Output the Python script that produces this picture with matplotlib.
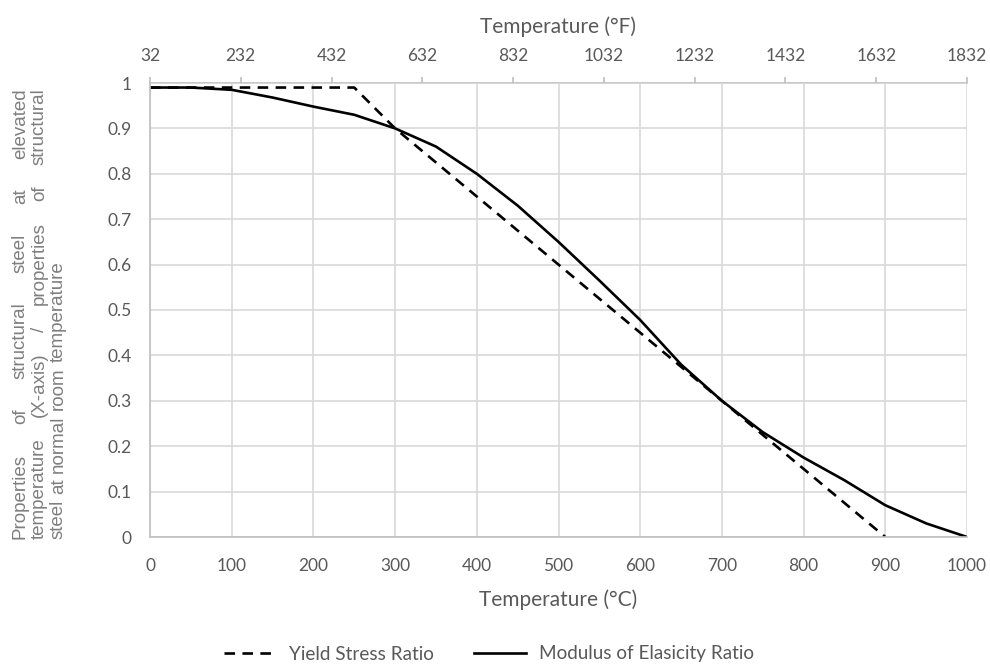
import numpy as np
import matplotlib
matplotlib.use("Agg")
import matplotlib.pyplot as plt
from matplotlib.lines import Line2D

# temperatures in deg C
temp_c = [0, 50, 100, 150, 200, 250, 300, 350, 400, 450, 500,
          550, 600, 650, 700, 750, 800, 850, 900, 950, 1000]

yield_temp = [0, 50, 100, 150, 200, 250, 300, 900]
yield_ratio = [0.99, 0.99, 0.99, 0.99, 0.99, 0.99, 0.90, 0.0]

modulus_ratio = [0.99, 0.99, 0.985, 0.968, 0.948, 0.93, 0.90, 0.86, 0.80, 0.73, 0.65,
                 0.565, 0.478, 0.38, 0.30, 0.231, 0.175, 0.125, 0.07, 0.03, 0.0]

c_ticks = [0, 100, 200, 300, 400, 500, 600, 700, 800, 900, 1000]
f_ticks = [32, 232, 432, 632, 832, 1032, 1232, 1432, 1632, 1832]
y_ticks = [0, 0.1, 0.2, 0.3, 0.4, 0.5, 0.6, 0.7, 0.8, 0.9, 1]
y_labels = ["0", "0.1", "0.2", "0.3", "0.4", "0.5", "0.6", "0.7", "0.8", "0.9", "1"]

ylab_lines = ["Properties of structural steel at elevated",
              "temperature (X-axis) / properties of structural",
              "steel at normal room temperature"]

txt = "#595959"
grid = "#d9d9d9"
dash = (0, (4, 2.8))
plt.rcParams['font.family'] = ['Lato', 'DejaVu Sans']

fig = plt.figure(figsize=(9.9, 6.66), dpi=100)
ax = fig.add_axes([150/990, 1 - 537/666, (967-150)/990, (537-83)/666])

ax.plot(yield_temp, yield_ratio, color="black", lw=1.9, ls=dash)
ax.plot(temp_c, modulus_ratio, color="black", lw=1.9)

ax.set_xlim(0, 1000)
ax.set_ylim(0, 1)
ax.set_xticks(c_ticks)
ax.set_yticks(y_ticks)
ax.set_yticklabels(y_labels)
ax.grid(True, color=grid, lw=1.2)
ax.tick_params(length=0, labelsize=12.5, colors=txt)
ax.tick_params(axis="x", pad=15)
ax.tick_params(axis="y", pad=13)
for s in ["top", "right"]:
    ax.spines[s].set_visible(False)
for s in ["left", "bottom"]:
    ax.spines[s].set_color("#bfbfbf")
    ax.spines[s].set_linewidth(1.2)
ax.set_xlabel("Temperature (°C)", fontsize=15, color=txt, labelpad=11)

def c2f(c):
    return np.asarray(c) * 9 / 5 + 32

def f2c(f):
    return (np.asarray(f) - 32) * 5 / 9

top = ax.secondary_xaxis('top', functions=(c2f, f2c))
top.set_xticks(f_ticks)
top.tick_params(length=4.5, width=1.2, color="#bfbfbf", labelsize=12.5, labelcolor=txt, pad=9)
top.spines['top'].set_color("#bfbfbf")
top.spines['top'].set_linewidth(1.2)
top.set_xlabel("Temperature (°F)", fontsize=15, color=txt, labelpad=11)

# justified rotated y label, words placed on a common baseline
fig.canvas.draw()
r = fig.canvas.get_renderer()
y0, y1 = 539, 88
xs = [25, 44, 63]
for i, line in enumerate(ylab_lines):
    words = line.split(" ")
    objs = [fig.text(0, 0, w, rotation=90, rotation_mode="anchor", fontsize=13.5,
                     color="#7f7f7f", family=['Liberation Sans', 'DejaVu Sans'],
                     ha="left", va="baseline")
            for w in words]
    sizes = [o.get_window_extent(r).height for o in objs]
    if i < 2:
        gap = ((y0 - y1) - sum(sizes)) / (len(words) - 1)
    else:
        gap = 5.5
    pos = y0
    for o, h in zip(objs, sizes):
        o.set_position((xs[i] / 990, 1 - pos / 666))
        pos -= h + gap

handles = [Line2D([], [], color="black", lw=1.9, ls=dash),
           Line2D([], [], color="black", lw=1.9)]
fig.legend(handles, ["Yield Stress Ratio", "Modulus of Elasicity Ratio"],
           loc="center", bbox_to_anchor=(489/990, 1 - 654/666), ncol=2,
           frameon=False, fontsize=13.6, labelcolor=txt, handlelength=2.75,
           columnspacing=2.1, handletextpad=0.7)

fig.savefig("out.png", dpi=100)
